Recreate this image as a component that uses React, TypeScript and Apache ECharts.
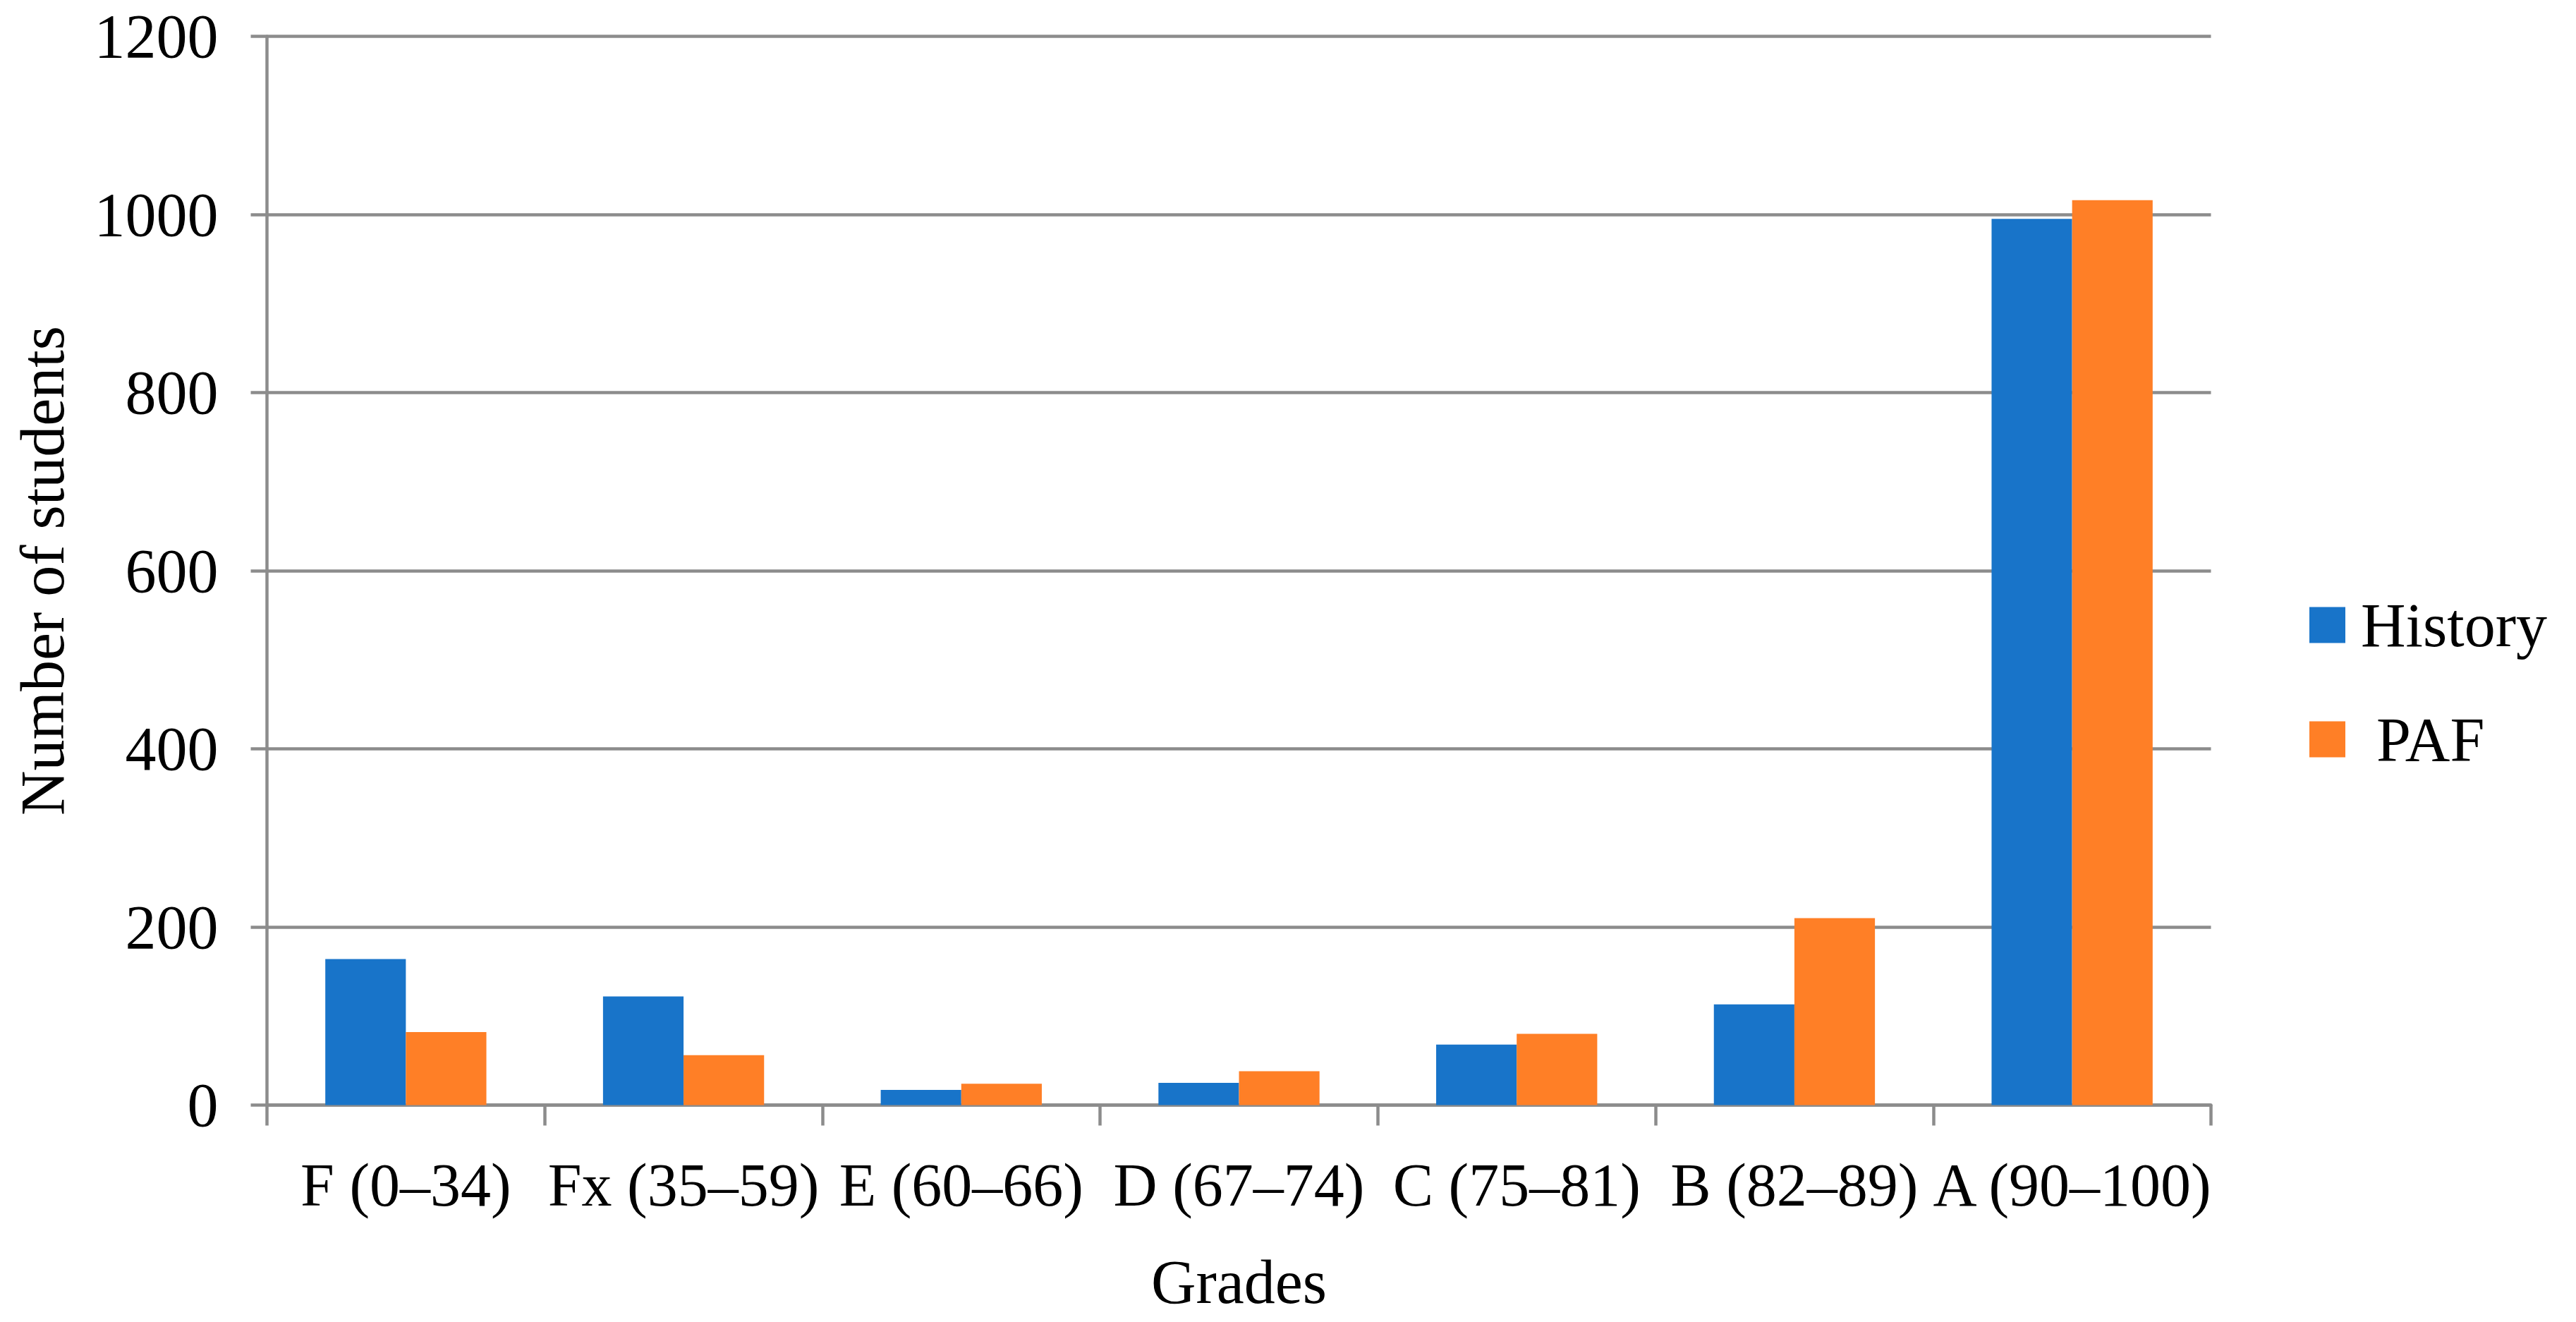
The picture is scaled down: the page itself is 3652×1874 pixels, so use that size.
import React, { useEffect, useRef } from "react";
import * as echarts from "echarts";

const categories = ["F (0–34)", "Fx (35–59)", "E (60–66)", "D (67–74)", "C (75–81)", "B (82–89)", "A (90–100)"];
const historyValues = [164, 122, 17, 25, 68, 113, 995];
const pafValues = [82, 56, 24, 38, 80, 210, 1016];
const yTicks = { min: 0, max: 1200, interval: 200 };

const FONT = "'Liberation Serif', 'Times New Roman', serif";
const GRID_COLOR = "#8C8C8C";

export default function App() {
  const ref = useRef<HTMLDivElement>(null);
  useEffect(() => {
    if (!ref.current) return;
    const chart = echarts.init(ref.current, undefined, { renderer: "svg" });
    chart.setOption({
      animation: false,
      backgroundColor: "#ffffff",
      grid: { left: 378.5, right: 517.5, top: 51.5, bottom: 307.5, containLabel: false },
      legend: {
        orient: "vertical",
        left: 3269,
        top: 837,
        itemWidth: 51,
        itemHeight: 51,
        itemGap: 74,
        icon: "rect",
        textStyle: {
          fontFamily: FONT,
          fontSize: 88,
          color: "#000",
          rich: {
            h: { fontFamily: FONT, fontSize: 88, color: "#000", padding: [0, 0, 0, 17] },
            p: { fontFamily: FONT, fontSize: 88, color: "#000", padding: [0, 0, 0, 39] },
          },
        },
        formatter: (name: string) => (name === "PAF" ? "{p|PAF}" : "{h|" + name + "}"),
        data: ["History", "PAF"],
      },
      xAxis: {
        type: "category",
        data: categories,
        boundaryGap: true,
        name: "Grades",
        nameLocation: "middle",
        nameGap: 207,
        nameTextStyle: { fontFamily: FONT, fontSize: 88, color: "#000" },
        axisLine: { show: true, lineStyle: { color: GRID_COLOR, width: 4.5 } },
        axisTick: { show: true, length: 29, alignWithLabel: false, interval: 0, lineStyle: { color: GRID_COLOR, width: 4.5 } },
        axisLabel: { interval: 0, margin: 70, fontFamily: FONT, fontSize: 86, color: "#000" },
        splitLine: { show: false },
      },
      yAxis: {
        type: "value",
        min: yTicks.min,
        max: yTicks.max,
        interval: yTicks.interval,
        name: "Number of students",
        nameLocation: "middle",
        nameGap: 274,
        nameRotate: 90,
        nameTextStyle: { fontFamily: FONT, fontSize: 88, color: "#000" },
        axisLine: { show: true, lineStyle: { color: GRID_COLOR, width: 4.5 } },
        axisTick: { show: true, length: 23, lineStyle: { color: GRID_COLOR, width: 4.5 } },
        axisLabel: {
          margin: 69,
          fontFamily: FONT,
          fontSize: 88,
          color: "#000",
          formatter: (v: number) => String(v),
        },
        splitLine: { show: true, lineStyle: { color: GRID_COLOR, width: 4.5 } },
      },
      series: [
        {
          name: "History",
          type: "bar",
          data: historyValues,
          barGap: "0%",
          barCategoryGap: "42%",
          itemStyle: { color: "#1874C9" },
        },
        {
          name: "PAF",
          type: "bar",
          data: pafValues,
          barGap: "0%",
          barCategoryGap: "42%",
          itemStyle: { color: "#FF7F26" },
        },
      ],
    });
    return () => chart.dispose();
  }, []);
  return (
    <div
      ref={ref}
      style={{ position: "fixed", left: 0, top: 0, width: "3652px", height: "1874px", background: "#fff" }}
    />
  );
}
